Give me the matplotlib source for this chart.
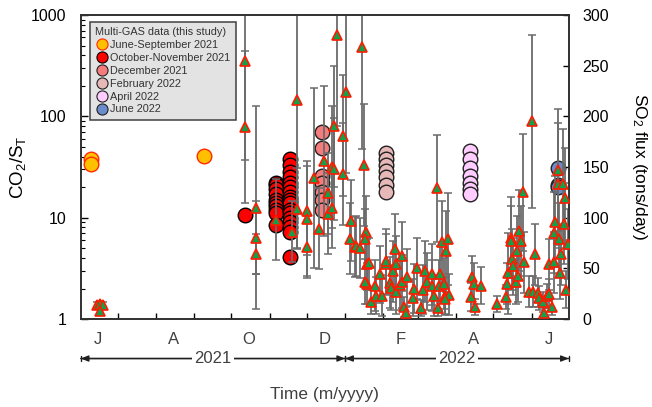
import pandas as pd
import matplotlib
matplotlib.use('Agg')
import matplotlib.pyplot as plt
import matplotlib.dates as mdates
from matplotlib.lines import Line2D

plt.rcParams['font.family'] = ['Liberation Sans', 'DejaVu Sans']
plt.rcParams['mathtext.fontset'] = 'custom'
plt.rcParams['mathtext.rm'] = 'Liberation Sans'
plt.rcParams['mathtext.it'] = 'Liberation Sans:italic'

# ---- Multi-GAS CO2/ST ratios, per campaign ----
junsep_dates = ['2021-06-09', '2021-06-09', '2021-09-09']
junsep_ratio = [38, 34, 41]

octnov_dates = (['2021-10-12'] + ['2021-11-06'] * 10 + ['2021-11-17'] * 17)
octnov_ratio = [10.7,
                22, 21, 19, 17, 15, 14, 13, 12, 11, 8.5,
                38, 33, 28, 25, 22, 20, 18, 16, 15, 14, 12, 11, 10, 9, 8, 7.2, 4.1]

dec_dates = ['2021-12-13'] * 7
dec_ratio = [70, 49, 26, 22, 18, 15, 12]

feb_dates = ['2022-02-03'] * 7
feb_ratio = [43, 38, 33, 29, 25, 21, 18]

apr_dates = ['2022-04-12'] * 7
apr_ratio = [46, 38, 31, 26, 22, 19, 17]

jun22_dates = ['2022-06-22'] * 3
jun22_ratio = [30.6, 21, 20]

campaign_labels = ['June-September 2021', 'October-November 2021', 'December 2021',
                   'February 2022', 'April 2022', 'June 2022']
campaign_colors = ['#FFC000', '#FF0000', '#F47C7C', '#E6B9B8', '#FFCCFF', '#6A8CCB']
campaign_edges = ['#FF2A00', '#000000', '#202020', '#202020', '#202020', '#202020']

# ---- SO2 flux (tons/day) with uncertainty ----
so2 = [
    ('2021-06-14', 14, 3), ('2021-06-17', 15, 3), ('2021-06-19', 14, 3), ('2021-06-17', 8, 3),
    ('2021-10-12', 255, 98), ('2021-10-12', 189, 75), ('2021-10-21', 110, 100),
    ('2021-10-21', 80, 36), ('2021-10-21', 64, 20),
    ('2021-11-06', 98, 40), ('2021-11-19', 86, 30), ('2021-11-23', 216, 146),
    ('2021-11-23', 109, 40), ('2021-12-01', 107, 44), ('2021-12-01', 99, 57),
    ('2021-12-01', 71, 31),
    ('2021-12-07', 139, 89), ('2021-12-11', 89, 40), ('2021-12-15', 156, 74),
    ('2021-12-18', 124, 40), ('2021-12-18', 104, 40), ('2021-12-21', 150, 60),
    ('2021-12-21', 110, 40), ('2021-12-23', 148, 50), ('2021-12-23', 190, 60),
    ('2021-12-25', 280, 90), ('2021-12-30', 181, 60), ('2021-12-30', 143, 50),
    ('2022-01-02', 224, 80), ('2022-01-05', 79, 35), ('2022-01-06', 97, 40),
    ('2022-01-09', 71, 30), ('2022-01-10', 72, 30), ('2022-01-13', 70, 30),
    ('2022-01-15', 268, 100), ('2022-01-16', 152, 60), ('2022-01-18', 86, 35),
    ('2022-01-17', 79, 30), ('2022-01-19', 54, 25), ('2022-01-19', 35, 20),
    ('2022-01-20', 55, 25), ('2022-01-17', 37, 22), ('2022-01-25', 33, 25),
    ('2022-01-22', 17, 12), ('2022-01-26', 23, 18), ('2022-01-31', 23, 20),
    ('2022-01-29', 44, 28),
    ('2022-02-03', 54, 30), ('2022-02-03', 57, 32), ('2022-02-06', 36, 25),
    ('2022-02-07', 31, 22), ('2022-02-10', 69, 35), ('2022-02-09', 47, 30),
    ('2022-02-11', 54, 28), ('2022-02-11', 27, 22), ('2022-02-16', 62, 34),
    ('2022-02-14', 34, 25), ('2022-02-16', 37, 26), ('2022-02-20', 41, 28),
    ('2022-02-18', 12, 10), ('2022-02-19', 6, 6), ('2022-02-25', 21, 18),
    ('2022-02-26', 30, 24), ('2022-02-28', 50, 30),
    ('2022-03-03', 11, 8), ('2022-03-05', 29, 24), ('2022-03-07', 47, 30),
    ('2022-03-08', 37, 28), ('2022-03-12', 44, 30), ('2022-03-12', 33, 25),
    ('2022-03-14', 23, 20), ('2022-03-16', 129, 53), ('2022-03-17', 11, 8),
    ('2022-03-19', 44, 28), ('2022-03-18', 33, 25), ('2022-03-20', 76, 40),
    ('2022-03-22', 35, 25), ('2022-03-23', 23, 18), ('2022-03-24', 67, 40),
    ('2022-03-25', 79, 45), ('2022-03-26', 24, 20), ('2022-03-23', 20, 16),
    ('2022-04-14', 41, 21), ('2022-04-15', 35, 20), ('2022-04-13', 22, 14),
    ('2022-04-16', 12, 8), ('2022-04-21', 33, 18),
    ('2022-05-04', 15, 8), ('2022-05-11', 22, 12), ('2022-05-12', 35, 20),
    ('2022-05-13', 45, 40), ('2022-05-15', 80, 40), ('2022-05-15', 77, 35),
    ('2022-05-16', 59, 30), ('2022-05-17', 52, 28), ('2022-05-19', 37, 22),
    ('2022-05-20', 67, 35), ('2022-05-21', 42, 25), ('2022-05-22', 87, 40),
    ('2022-05-23', 77, 35), ('2022-05-26', 56, 30), ('2022-05-25', 125, 58),
    ('2022-05-30', 27, 15),
    ('2022-06-01', 195, 85), ('2022-06-04', 64, 30), ('2022-06-02', 27, 15),
    ('2022-06-06', 26, 14), ('2022-06-07', 21, 12), ('2022-06-10', 17, 10),
    ('2022-06-11', 6, 5), ('2022-06-13', 23, 12), ('2022-06-15', 25, 14),
    ('2022-06-17', 12, 8), ('2022-06-15', 54, 25), ('2022-06-19', 56, 30),
    ('2022-06-19', 85, 40), ('2022-06-20', 96, 45), ('2022-06-22', 147, 60),
    ('2022-06-22', 133, 60), ('2022-06-26', 133, 55), ('2022-06-23', 79, 35),
    ('2022-06-27', 94, 40), ('2022-06-28', 119, 50), ('2022-06-25', 64, 30),
    ('2022-06-30', 74, 35), ('2022-06-24', 45, 25), ('2022-06-29', 29, 18),
]
so2_dates = pd.to_datetime([s[0] for s in so2])
so2_flux = [s[1] for s in so2]
so2_err = [s[2] for s in so2]

month_labels = ['J', 'A', 'O', 'D', 'F', 'A', 'J']
month_label_dates = ['2021-06-15', '2021-08-15', '2021-10-15', '2021-12-15',
                     '2022-02-15', '2022-04-15', '2022-06-15']
years = ['2021', '2022']
year_spans = [('2021-06-01', '2022-01-01'), ('2022-01-01', '2022-07-01')]

grey_txt = '#404040'

fig = plt.figure(figsize=(6.52, 4.07), dpi=100)
ax = fig.add_axes([0.1238, 0.2162, 0.7486, 0.7469])
ax2 = ax.twinx()

# CO2/ST circles (left, log axis)
groups = [(junsep_dates, junsep_ratio), (octnov_dates, octnov_ratio),
          (dec_dates, dec_ratio), (feb_dates, feb_ratio),
          (apr_dates, apr_ratio), (jun22_dates, jun22_ratio)]
handles = []
for (d, r), lab, fc, ec in zip(groups, campaign_labels, campaign_colors, campaign_edges):
    ax.plot(pd.to_datetime(d), r, 'o', ms=10.5, mfc=fc, mec=ec, mew=1.0, ls='none')
    handles.append(Line2D([], [], marker='o', ls='none', ms=8, mfc=fc, mec=ec, mew=0.8))

ax.set_yscale('log')
ax.set_ylim(1, 1000)
ax.set_yticks([1, 10, 100, 1000], ['1', '10', '100', '1000'])
ax.set_ylabel(r'$\mathregular{CO_2/S_T}$', fontsize=13.5, labelpad=2)

# SO2 flux triangles (right axis)
ax2.errorbar(so2_dates, so2_flux, yerr=so2_err, fmt='none', ecolor='#6b6b6b',
             elinewidth=1.3, capsize=3, capthick=1.1, zorder=2)
ax2.plot(so2_dates, so2_flux, '^', ms=6.5, mfc='#12a04a', mec='#ff1a00', mew=1.2,
         ls='none', zorder=3)
ax2.set_ylim(0, 300)
ax2.set_yticks(range(0, 301, 50))
ax2.set_ylabel(r'$\mathregular{SO_2}$ flux (tons/day)', fontsize=12.5, rotation=270,
               va='center')
ax2.yaxis.set_label_coords(1.145, 0.5)

# time axis: ticks at month starts, letters at mid-month
x0, x1 = mdates.date2num(pd.Timestamp('2021-06-01')), mdates.date2num(pd.Timestamp('2022-07-01'))
ax.set_xlim(x0, x1)
month_starts = mdates.date2num(pd.date_range('2021-07-01', '2022-06-01', freq='MS'))
ax.set_xticks(month_starts, [''] * len(month_starts))
ax.set_xticks(mdates.date2num(pd.to_datetime(month_label_dates)), month_labels, minor=True)
ax.tick_params(axis='x', which='major', direction='in', length=4, width=1)
ax.tick_params(axis='x', which='minor', length=0, pad=9, labelsize=12, labelcolor=grey_txt)
ax.tick_params(axis='y', which='major', direction='in', length=5, width=1, labelsize=11.5,
               pad=10.5)
ax.tick_params(axis='y', which='minor', direction='in', length=3, width=0.8)
ax2.tick_params(axis='y', direction='in', length=4, width=1, labelsize=11.5, pad=10)

for a in (ax, ax2):
    for sp in a.spines.values():
        sp.set_color('#303030')
        sp.set_linewidth(1.2)

# year spans below the month letters
trans = ax2.get_xaxis_transform()
for yr, (s, e) in zip(years, year_spans):
    s = mdates.date2num(pd.Timestamp(s))
    e = mdates.date2num(pd.Timestamp(e))
    for style in ('<|-|>,head_length=0.45,head_width=0.18', '|-|,widthA=0.18,widthB=0.18'):
        ax2.annotate('', xy=(s, -0.13), xytext=(e, -0.13), xycoords=trans,
                     textcoords=trans, annotation_clip=False,
                     arrowprops=dict(arrowstyle=style, color='#202020', lw=1.0,
                                     shrinkA=0, shrinkB=0))
    ax2.text((s + e) / 2, -0.13, yr, transform=trans, ha='center', va='center',
             fontsize=12, color=grey_txt,
             bbox=dict(facecolor='white', edgecolor='none', pad=1.5))

ax.set_xlabel('Time (m/yyyy)', fontsize=12.5, color=grey_txt, va='center')
ax.xaxis.set_label_coords(0.5, -0.247)

leg = ax2.legend(handles, campaign_labels, title='Multi-GAS data (this study)',
                 loc='upper left', bbox_to_anchor=(0.019, 0.977), borderaxespad=0,
                 fontsize=7.8, title_fontsize=7.8, labelspacing=0.26,
                 handletextpad=0.15, handlelength=1.2, borderpad=0.5,
                 fancybox=False, framealpha=1, alignment='left')
leg.get_frame().set_facecolor('#e3e3e3')
leg.get_frame().set_edgecolor('#404040')
leg.get_frame().set_linewidth(1.1)
leg.set_zorder(10)
for t in leg.get_texts():
    t.set_color('#333333')
leg.get_title().set_color('#333333')

fig.savefig('out.png', dpi=100)
